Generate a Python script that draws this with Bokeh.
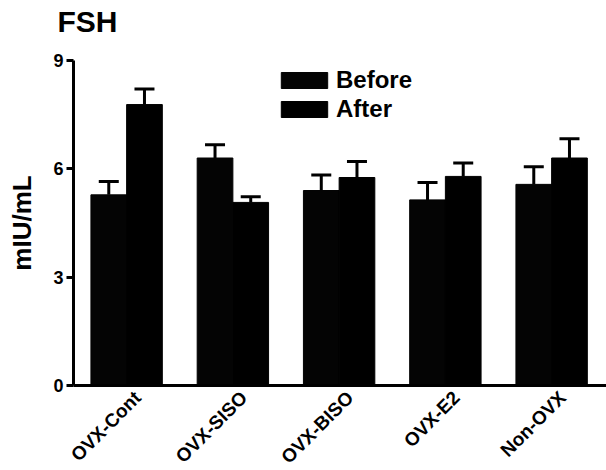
import math
from bokeh.plotting import figure
from bokeh.models import (ColumnDataSource, Whisker, TeeHead, Label,
                          Range1d, FixedTicker, Legend, LegendItem)
from bokeh.embed import file_html
from bokeh.resources import INLINE

groups = ["OVX-Cont", "OVX-SISO", "OVX-BISO", "OVX-E2", "Non-OVX"]
before = [5.28, 6.30, 5.40, 5.14, 5.57]
before_sem = [0.37, 0.37, 0.43, 0.48, 0.49]
after = [7.78, 5.07, 5.76, 5.79, 6.30]
after_sem = [0.43, 0.16, 0.44, 0.37, 0.53]
y_ticks = [0, 3, 6, 9]

FONT = "Liberation Sans"
W, H = 606, 470
# frame geometry (pixels): axes origin and scale
X0_PX, Y0_PX = 73, 385          # where x=0 / y=0 sit
PX_PER_GROUP = 106.25
PX_PER_UNIT = 325 / 9.0
off = 0.168                      # half bar spacing within group
bw = 0.336                       # bar width (group units)
LABEL_DX = 11 / PX_PER_GROUP     # shift of rotated category labels

centers = [i + 0.5 for i in range(len(groups))]

src = ColumnDataSource(dict(
    xb=[c - off for c in centers],
    xa=[c + off for c in centers],
    before=before,
    after=after,
    before_top=[m + s for m, s in zip(before, before_sem)],
    after_top=[m + s for m, s in zip(after, after_sem)],
))

x_range = Range1d(-X0_PX / PX_PER_GROUP, (W - X0_PX) / PX_PER_GROUP)
y_range = Range1d(-(H - Y0_PX) / PX_PER_UNIT, 9 + (Y0_PX - 325) / PX_PER_UNIT)

p = figure(width=W, height=H, x_range=x_range, y_range=y_range,
           output_backend="svg", toolbar_location=None,
           min_border_left=0, min_border_right=0, min_border_top=0,
           min_border_bottom=0)
p.outline_line_color = None
p.xgrid.grid_line_color = None
p.ygrid.grid_line_color = None

r_before = p.vbar(x="xb", top="before", width=bw, bottom=0, source=src,
                  fill_color="#040404", line_color="#040404")
r_after = p.vbar(x="xa", top="after", width=bw, bottom=0, source=src,
                 fill_color="black", line_color="black")

for xcol, col, top in (("xb", "before", "before_top"), ("xa", "after", "after_top")):
    w = Whisker(base=xcol, lower=col, upper=top, source=src,
                line_width=3, line_color="black",
                upper_head=TeeHead(size=20, line_width=3, line_color="black"),
                lower_head=None)
    p.add_layout(w)

# y axis, fixed at x = 0
yax = p.yaxis[0]
yax.fixed_location = 0
yax.bounds = (0, 9)
yax.ticker = FixedTicker(ticks=y_ticks)
yax.axis_line_width = 3
yax.major_tick_line_width = 3
yax.major_tick_out = 7
yax.major_tick_in = 0
yax.minor_tick_line_color = None
yax.major_label_text_font = FONT
yax.major_label_text_font_style = "bold"
yax.major_label_text_font_size = "18px"
yax.major_label_text_color = "black"
yax.major_label_standoff = 3
yax.axis_label = "mIU/mL"
yax.axis_label_text_font = FONT
yax.axis_label_text_font_style = "bold"
yax.axis_label_text_font_size = "26px"
yax.axis_label_text_color = "black"
yax.axis_label_standoff = 13

# x axis, fixed at y = 0
xax = p.xaxis[0]
xax.fixed_location = 0
xax.bounds = (0, x_range.end)
label_ticks = [c + LABEL_DX for c in centers]
xax.ticker = FixedTicker(ticks=label_ticks)
xax.major_label_overrides = {t: g for t, g in zip(label_ticks, groups)}
xax.axis_line_width = 3
xax.major_tick_line_color = None
xax.minor_tick_line_color = None
xax.major_tick_out = 0
xax.major_tick_in = 0
xax.major_label_orientation = math.pi / 4
xax.major_label_text_font = FONT
xax.major_label_text_font_style = "bold"
xax.major_label_text_font_size = "19px"
xax.major_label_text_color = "black"
xax.major_label_standoff = 9

# title
p.add_layout(Label(x=-16 / PX_PER_GROUP, y=9 + 39 / PX_PER_UNIT, text="FSH",
                   text_font=FONT, text_font_style="bold",
                   text_font_size="30px", text_color="black",
                   text_align="left", text_baseline="alphabetic"))

legend = Legend(items=[LegendItem(label="Before", renderers=[r_before]),
                       LegendItem(label="After", renderers=[r_after])],
                location=(275, 347), orientation="vertical",
                glyph_width=58, glyph_height=20, label_standoff=3,
                label_text_font=FONT, label_text_font_style="bold",
                label_text_font_size="24px", label_text_color="black",
                padding=0, margin=0, spacing=1,
                border_line_color=None, background_fill_alpha=0)
p.add_layout(legend)

open("out.html", "w").write(file_html(p, INLINE))
